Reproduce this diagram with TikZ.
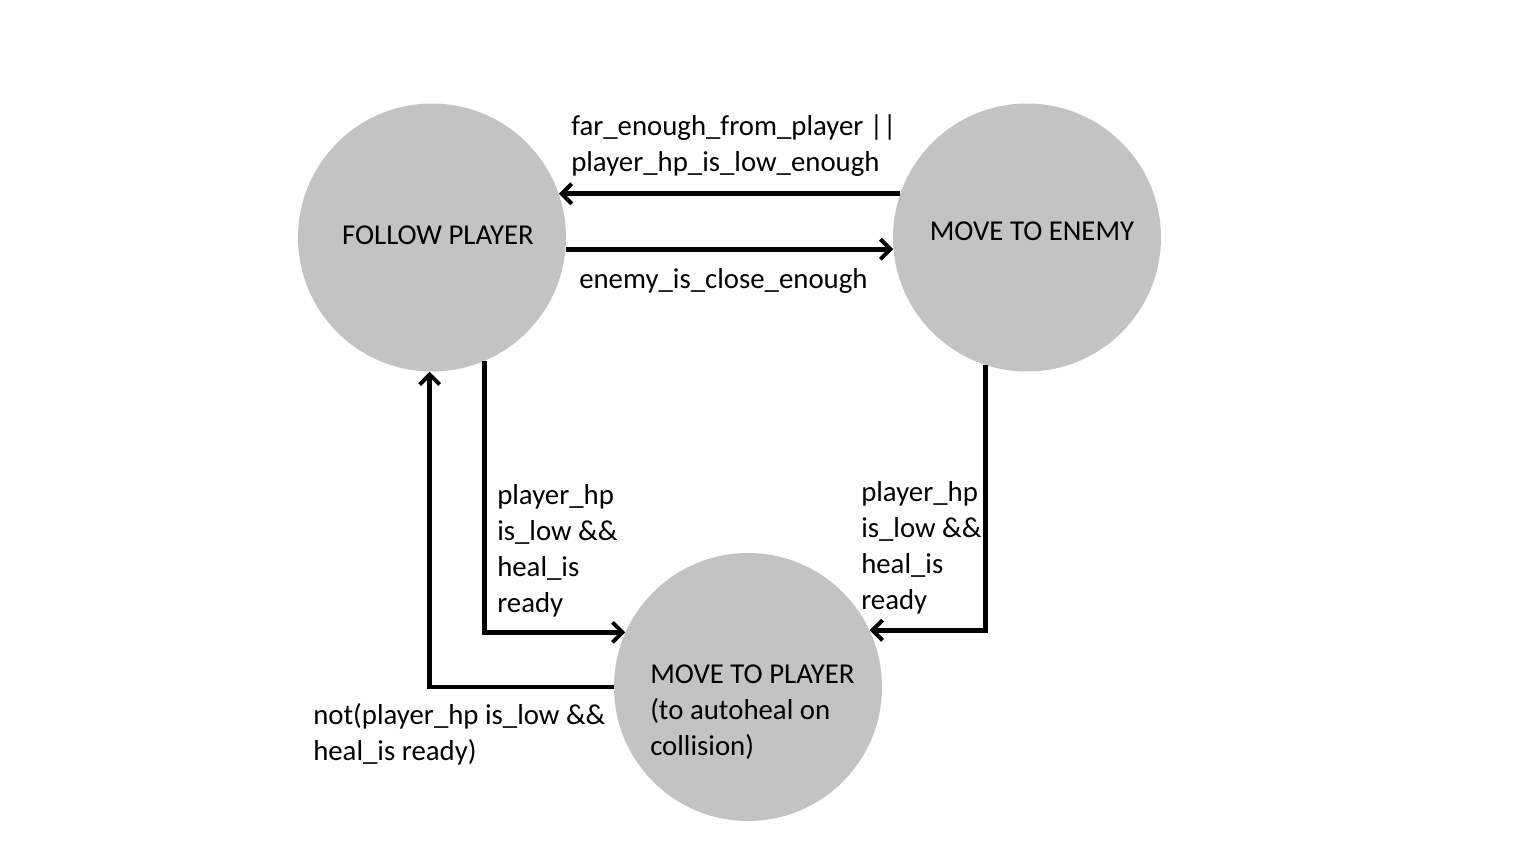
\documentclass[tikz,border=0pt]{standalone}
\usepackage{fontspec}
\setmainfont{Carlito}
\usetikzlibrary{arrows.meta}
\definecolor{stategray}{RGB}{195,195,195}
\tikzset{
	state/.style={circle, fill=stategray, draw=none, minimum size=201pt, inner sep=0pt},
	trans/.style={line width=3.5pt, line join=miter, -{Straight Barb[length=7.5pt,width=15pt,line width=3pt]}},
	lbl/.style={inner sep=0pt, anchor=west, align=left, font=\fontsize{21.6}{27}\selectfont},
}
\begin{document}
\begin{tikzpicture}[x=0.75pt,y=0.75pt,yscale=-1,xscale=1]
\useasboundingbox (0,0) rectangle (1536,864);

% States
	\node [state] (follow) at (432,237.5) {};
	\node [state] (enemy) at (1027,237.5) {};
	\node [state] (player) at (748,687) {};

% State names
	\node [lbl, anchor=center] (followtxt) at (438,235) {FOLLOW PLAYER};
	\node [lbl, anchor=center] (enemytxt) at (1032,231) {MOVE TO ENEMY};
	\node [lbl] (playertxt) at (650,712) {MOVE TO PLAYER\\(to autoheal on\\collision)};

% Transitions
	\draw [trans] (enemy.161) -- (follow.19);
	\draw [trans] (follow.-5.35) -- (enemy.185.35);
	\draw [trans] (follow.-67) |- (player.156);
	\draw [trans] (enemy.-108) |- (player.25.6);
	\draw [trans] (player.west) -| (follow.-91);

% Conditions
	\node [lbl] (farlbl) at (571,146) {far\_enough\_from\_player ||\\player\_hp\_is\_low\_enough};
	\node [lbl] (closelbl) at (579,281) {enemy\_is\_close\_enough};
	\node [lbl] (lowlbl) at (497,551) {player\_hp\\is\_low \&\&\\heal\_is\\ready};
	\node [lbl] (lowlbl2) at (861,548) {player\_hp\\is\_low \&\&\\heal\_is\\ready};
	\node [lbl] (notlbl) at (313,734) {not(player\_hp is\_low \&\&\\heal\_is ready)};

\end{tikzpicture}
\end{document}
